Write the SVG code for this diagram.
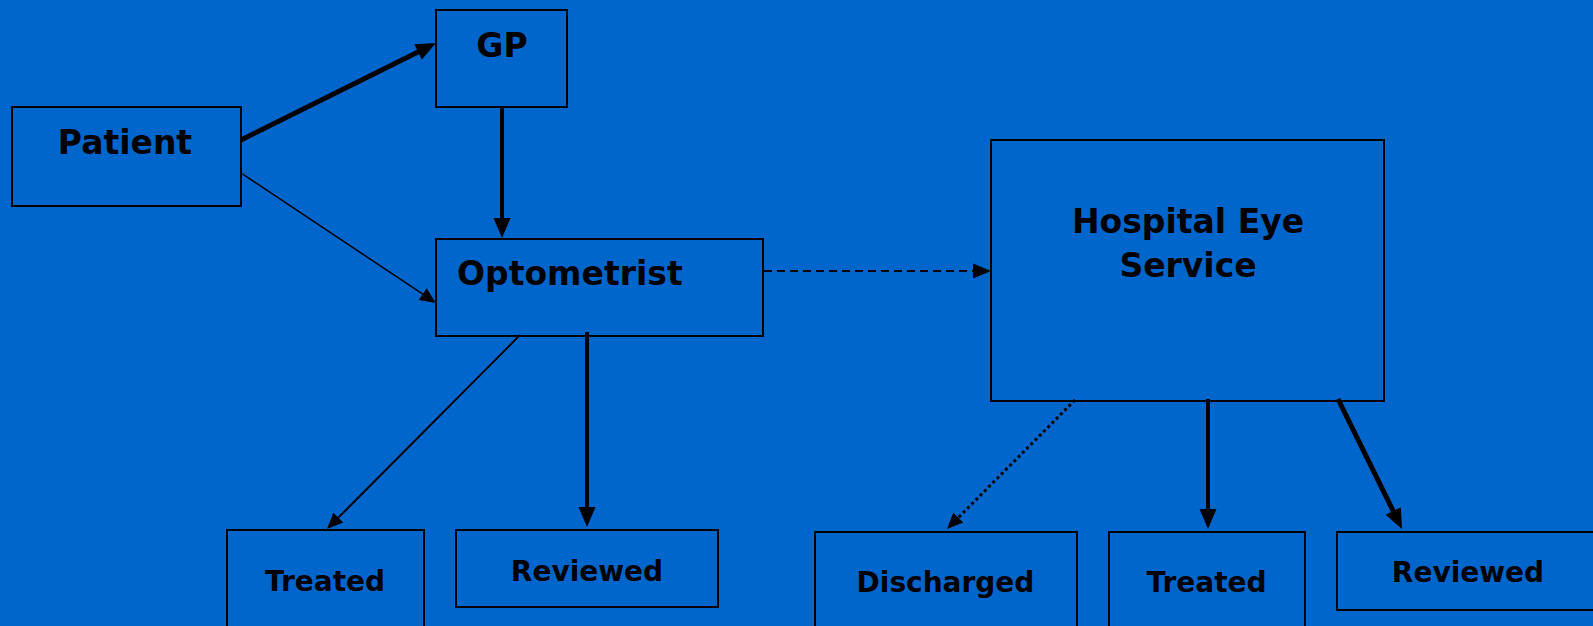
<svg xmlns="http://www.w3.org/2000/svg" width="1593" height="626" viewBox="0 0 1593 626">
<style>
.box{fill:none;stroke:#000;stroke-width:2}
.t{font-family:"DejaVu Sans",Verdana,sans-serif;font-weight:bold;fill:#000}
.big{font-size:33px}
.sm{font-size:28px}
.c{stroke:#000;fill:none}
.h{fill:#000;stroke:none}
</style>
<rect width="1593" height="626" fill="#0066CC"/>
<g id="connectors">
<line class="c" x1="241" y1="140" x2="427.05" y2="47.45" stroke-width="5"/>
<polygon class="h" points="436,43 421.88,59.52 414.30,44.30"/>
<line class="c" x1="241" y1="173" x2="427.7" y2="297.45" stroke-width="1.5"/>
<polygon class="h" points="436,303 418.81,299.94 426.57,288.30"/>
<line class="c" x1="502" y1="107" x2="502" y2="228" stroke-width="4"/>
<polygon class="h" points="502,238 493.5,218 510.5,218"/>
<line class="c" x1="764" y1="271" x2="979" y2="271" stroke-width="2" stroke-dasharray="8 5"/>
<polygon class="h" points="991,271 973,263.5 973,278.5"/>
<line class="c" x1="520" y1="335" x2="334.05" y2="521.9" stroke-width="2"/>
<polygon class="h" points="327,529 333.33,512.72 343.25,522.60"/>
<line class="c" x1="587" y1="332" x2="587" y2="517" stroke-width="4"/>
<polygon class="h" points="587,527 578.5,507 595.5,507"/>
<line class="c" x1="1075" y1="400" x2="954.04" y2="521.9" stroke-width="3" stroke-dasharray="3 3"/>
<polygon class="h" points="947,529 953.30,512.71 963.24,522.57"/>
<line class="c" x1="1208" y1="399" x2="1208" y2="519" stroke-width="4"/>
<polygon class="h" points="1208,529 1199.5,509 1216.5,509"/>
<line class="c" x1="1338" y1="399" x2="1397.6" y2="520" stroke-width="5"/>
<polygon class="h" points="1402,529 1385.54,514.81 1400.80,507.30"/>
</g>
<g id="patient"><rect class="box" x="12" y="107" width="229" height="99"/><text class="t big" x="125" y="154" text-anchor="middle">Patient</text></g>
<g id="gp"><rect class="box" x="436" y="10" width="131" height="97"/><text class="t big" x="502" y="57" text-anchor="middle">GP</text></g>
<g id="optometrist"><rect class="box" x="436" y="239" width="327" height="97"/><text class="t big" x="457" y="285">Optometrist</text></g>
<g id="hospital"><rect class="box" x="991" y="140" width="393" height="261"/><text class="t big" x="1188" y="233" text-anchor="middle">Hospital Eye</text><text class="t big" x="1188" y="277" text-anchor="middle">Service</text></g>
<g id="treated1"><rect class="box" x="227" y="530" width="197" height="110"/><text class="t sm" x="325" y="591" text-anchor="middle">Treated</text></g>
<g id="reviewed1"><rect class="box" x="456" y="530" width="262" height="77"/><text class="t sm" x="587" y="581" text-anchor="middle">Reviewed</text></g>
<g id="discharged"><rect class="box" x="815" y="532" width="262" height="110"/><text class="t sm" x="945.5" y="592" text-anchor="middle">Discharged</text></g>
<g id="treated2"><rect class="box" x="1109" y="532" width="196" height="110"/><text class="t sm" x="1206.5" y="592" text-anchor="middle">Treated</text></g>
<g id="reviewed2"><rect class="box" x="1337" y="532" width="270" height="78"/><text class="t sm" x="1468" y="582" text-anchor="middle">Reviewed</text></g>
</svg>
